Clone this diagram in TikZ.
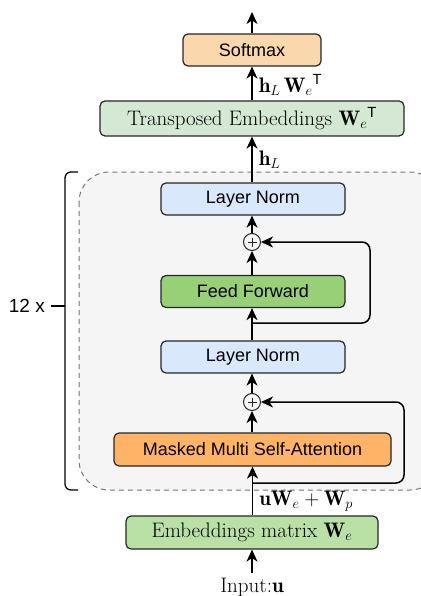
\documentclass[tikz,border=0pt]{standalone}
\usepackage{fontspec}
\setsansfont{Liberation Sans}
\usetikzlibrary{arrows.meta}
\definecolor{cSoft}{HTML}{FAD7AC}
\definecolor{cTrans}{HTML}{D5E8D4}
\definecolor{cNorm}{HTML}{DAE8FC}
\definecolor{cFF}{HTML}{97D077}
\definecolor{cAtt}{HTML}{FFB366}
\definecolor{cEmb}{HTML}{B9E0A5}
\definecolor{cBlock}{HTML}{F5F5F5}
\definecolor{cDash}{HTML}{777777}
\tikzset{
  blk/.style={draw=black!85, line width=1.2pt, rounded corners=5pt,
    minimum height=32pt, inner sep=0pt,
    font=\sffamily\fontsize{18}{21}\selectfont},
  serifblk/.style={blk, font=\rmfamily\fontsize{21}{24}\selectfont},
  arr/.style={-{Stealth[length=12pt,width=11pt,inset=3.5pt]}, line width=1.5pt},
  sumnode/.style={circle, draw=black!85, line width=1pt, minimum size=17pt,
    inner sep=0pt, fill=cBlock,
    path picture={
      \draw[line width=0.9pt] ([xshift=-4.5pt]path picture bounding box.center) -- ([xshift=4.5pt]path picture bounding box.center);
      \draw[line width=0.9pt] ([yshift=-4.5pt]path picture bounding box.center) -- ([yshift=4.5pt]path picture bounding box.center);
    }},
  lbl/.style={font=\fontsize{21}{24}\selectfont, inner sep=2pt},
}
\begin{document}
\begin{tikzpicture}[x=1pt,y=-1pt]
\useasboundingbox (0,0) rectangle (420,596);

% repeated decoder block
\draw[cDash, fill=cBlock, dashed, dash pattern=on 5pt off 4pt, line width=1pt, rounded corners=30pt]
  (79,172) rectangle (440,490);

% bracket with repetition count
\draw[line width=1.3pt, rounded corners=6pt] (78,172) -- (65,172) -- (65,490) -- (78,490);
\node[font=\sffamily\fontsize{19}{22}\selectfont, anchor=east, inner sep=0pt] (rep) at (45,306) {12 x};
\draw[line width=1.3pt] (51,306) -- (65,306);

% boxes
\node[blk, fill=cSoft, minimum width=138pt] (soft) at (252,50) {Softmax};
\node[serifblk, fill=cTrans, minimum width=304pt, minimum height=35pt] (trans) at (252,118.5)
  {Transposed Embeddings $\mathbf{W}_e{}^{\mathsf{T}}$};
\node[blk, fill=cNorm, minimum width=184pt] (lnb) at (253,199) {Layer Norm};
\node[sumnode] (pb) at (252,242) {};
\node[blk, fill=cFF, minimum width=184pt] (ff) at (253,291.5) {Feed Forward};
\node[blk, fill=cNorm, minimum width=184pt] (lna) at (253,357) {Layer Norm};
\node[sumnode] (pa) at (252,402) {};
\node[blk, fill=cAtt, minimum width=277pt, minimum height=33pt] (att) at (252.5,449.5) {Masked Multi Self-Attention};
\node[serifblk, fill=cEmb, minimum width=252pt, minimum height=33pt] (emb) at (252,532.5)
  {Embeddings matrix $\mathbf{W}_e$};
\node[font=\rmfamily\fontsize{21}{24}\selectfont] (inp) at (252,587) {Input:$\mathbf{u}$};
\coordinate (out) at (252,12);

% main flow
\draw[arr] (inp.north) ++(0,-1) -- (emb.south);
\draw[arr] (emb.north -| att.south) -- (att.south)
  node[lbl, pos=0.3, anchor=west, xshift=4pt] {$\mathbf{u}\mathbf{W}_e + \mathbf{W}_p$};
\draw[arr] (att.north -| pa) -- (pa.south);
\draw[arr] (pa.north) -- (lna.south -| pa);
\draw[arr] (lna.north -| pa) -- (ff.south -| pa);
\draw[arr] (ff.north -| pb) -- (pb.south);
\draw[arr] (pb.north) -- (lnb.south -| pb);
\draw[arr] (lnb.north -| pb) -- (trans.south -| pb)
  node[lbl, pos=0.5, anchor=west, xshift=4pt] {$\mathbf{h}_L$};
\draw[arr] (trans.north -| pb) -- (soft.south -| pb)
  node[lbl, pos=0.45, anchor=west, xshift=4pt] {$\mathbf{h}_L\,\mathbf{W}_e{}^{\mathsf{T}}$};
\draw[arr] (soft.north -| pb) -- (out);

% residual connections
\coordinate (sa) at (252,483);
\coordinate (ra) at (404,402);
\draw[arr, rounded corners=8pt] (sa) -| (ra) -- (pa.east);
\coordinate (sb) at (252,323);
\coordinate (rb) at (370,242);
\draw[arr, rounded corners=8pt] (sb) -| (rb) -- (pb.east);
\end{tikzpicture}
\end{document}
